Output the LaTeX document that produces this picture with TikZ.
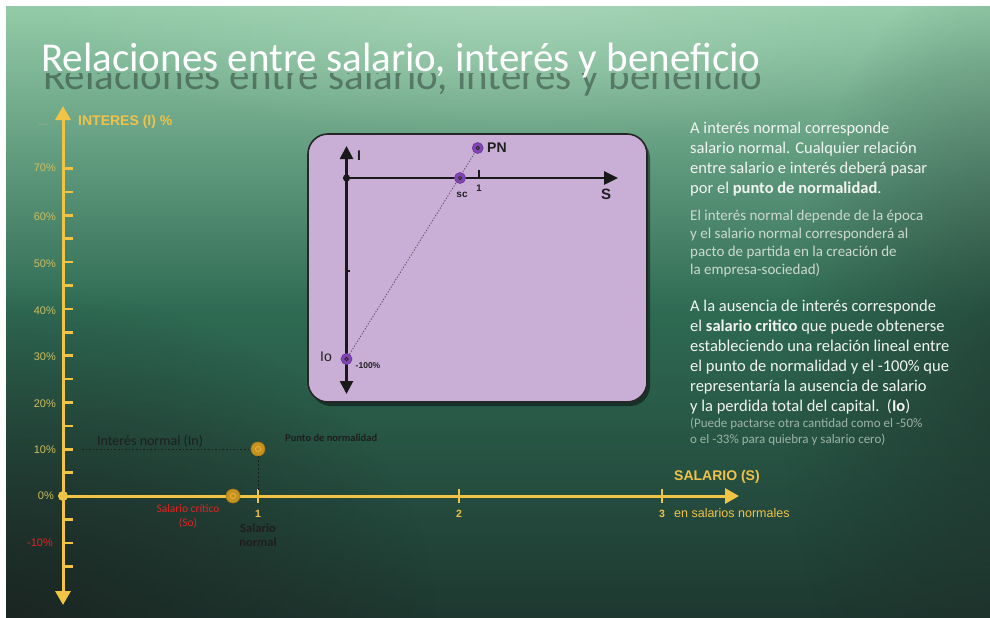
\documentclass[tikz,border=0pt]{standalone}
\usepackage{fontspec}
\setmainfont{Carlito}
\newfontfamily\arialf{Liberation Sans}
\usetikzlibrary{arrows.meta,shadows,fadings}

\definecolor{bgtop}{HTML}{93CBA8}
\definecolor{bgmid}{HTML}{2E6A53}
\definecolor{bgbot}{HTML}{1E3830}
\definecolor{axisY}{HTML}{F2C445}
\definecolor{pctcol}{HTML}{CDBE5E}
\definecolor{labY}{HTML}{F0C24A}
\definecolor{redlab}{HTML}{E02424}
\definecolor{darklab}{HTML}{1E1E1E}
\definecolor{boxfill}{HTML}{C9AFD5}
\definecolor{ptpurple}{HTML}{8245B5}
\definecolor{ptpurpleedge}{HTML}{6A2E99}
\definecolor{ptorange}{HTML}{C8921E}
\definecolor{ptorangeedge}{HTML}{A97812}
\definecolor{ptorangein}{HTML}{E3B040}
\definecolor{txtwhite}{HTML}{F2F4F2}
\definecolor{txtgray}{HTML}{CCD9CF}
\definecolor{txtdim}{HTML}{9DB3A8}
\definecolor{lightglow}{HTML}{B8DEC4}
\definecolor{darkcorner}{HTML}{1A201E}

\tikzfading[name=radfade, inner color=transparent!0, outer color=transparent!100]

\tikzset{
  mainaxis/.style={draw=axisY, line width=3pt},
  maintick/.style={draw=axisY, line width=2.6pt},
  pctlabel/.style={font=\arialf\fontsize{11}{13}\selectfont, text=pctcol, anchor=east, inner sep=0pt},
  axtitle/.style={font=\arialf\bfseries\fontsize{14}{16}\selectfont, text=labY, inner sep=0pt},
  opoint/.style={circle, minimum size=14pt, inner sep=0pt, fill=ptorange, draw=ptorangeedge, line width=0.6pt,
    path picture={\draw[ptorangein, line width=0.9pt] (path picture bounding box.center) circle (2.6pt);}},
  ppoint/.style={circle, minimum size=11pt, inner sep=0pt, fill=ptpurple, draw=ptpurpleedge, line width=0.6pt,
    path picture={\draw[black!85, line width=0.9pt] (path picture bounding box.center) circle (1.8pt);}},
  boxaxis/.style={draw=black!90, line width=2.6pt},
  boxlabel/.style={font=\arialf\bfseries, text=black!88, inner sep=0pt},
  paraA/.style={font=\fontsize{16.5}{20}\selectfont, text=txtwhite, align=left, anchor=north west, inner sep=0pt},
  paraB/.style={font=\fontsize{15}{18}\selectfont, text=txtgray, align=left, anchor=north west, inner sep=0pt},
  paraC/.style={font=\fontsize{13}{16}\selectfont, text=txtdim, align=left, anchor=north west, inner sep=0pt},
  titlefont/.style={anchor=base west, inner sep=0pt, font=\fontsize{41}{48}\selectfont},
}

\begin{document}
\begin{tikzpicture}[x=1pt,y=-1pt]
\useasboundingbox (0,0) rectangle (990,618);
\fill[white] (0,0) rectangle (990,618);
% background
\shade[top color=bgtop, bottom color=bgbot, middle color=bgmid] (6,7) rectangle (990,618);
\begin{scope}
\clip (6,7) rectangle (990,618);
\fill[lightglow, opacity=0.5, path fading=radfade] (520,0) ellipse (480pt and 140pt);
\fill[darkcorner, opacity=0.75, path fading=radfade] (6,618) ellipse (430pt and 330pt);
\fill[darkcorner, opacity=0.45, path fading=radfade] (1010,380) ellipse (230pt and 420pt);
\end{scope}

% title with its shadow (visible only below the title)
\begin{scope}
\clip (6,73) rectangle (990,100);
\node[titlefont, text=black, opacity=0.35] (titleshadow) at (43,89) {Relaciones entre salario, interés y beneficio};
\end{scope}
\node[titlefont, text=white] (title) at (41,71) {Relaciones entre salario, interés y beneficio};

% main vertical axis
\draw[mainaxis, {Triangle[width=15pt,length=14pt]}-{Triangle[width=15pt,length=14pt]}] (63,605) -- (63,106);
\foreach \p in {-15,-10,-5,5,10,15,20,25,30,35,40,45,50,55,60,65,70}
  \draw[maintick] (63,{496-4.68*\p}) -- ++(10,0);
% horizontal axis
\draw[mainaxis, -{Triangle[width=15pt,length=14pt]}] (63,496) -- (739,496);
\foreach \s/\xx in {1/258,2/459,3/662}
  \draw[maintick] (\xx,489) -- (\xx,503);
\fill[axisY] (63,496) circle (5pt);

% percent labels
\node[pctlabel] (p70) at (56,168) {70\%};
\node[pctlabel] (p60) at (56,217) {60\%};
\node[pctlabel] (p50) at (56,264) {50\%};
\node[pctlabel] (p40) at (56,311) {40\%};
\node[pctlabel] (p30) at (56,357) {30\%};
\node[pctlabel] (p20) at (56,404) {20\%};
\node[pctlabel] (p10) at (56,450) {10\%};
\node[pctlabel] (p0) at (54,496) {0\%};
\node[pctlabel, text=redlab] (pm10) at (53,543) {-10\%};
\node[pctlabel, text=txtdim!70!pctcol] (pdots) at (48,125) {...};

\node[axtitle, anchor=west] (ylabel) at (78,122) {INTERES (I) \%};
\node[axtitle, anchor=west] (xlabel) at (674,477) {SALARIO (S)};

% x tick labels
\node[font=\arialf\bfseries\fontsize{10.5}{12}\selectfont, text=labY, inner sep=0pt] (x1) at (258,514) {1};
\node[font=\arialf\bfseries\fontsize{10.5}{12}\selectfont, text=labY, inner sep=0pt] (x2) at (459,514) {2};
\node[font=\arialf\bfseries\fontsize{10.5}{12}\selectfont, text=labY, inner sep=0pt] (x3) at (662,514) {3};
\node[font=\arialf\fontsize{12.5}{14}\selectfont, text=labY, inner sep=0pt, anchor=west] (xunits) at (674,513) {en salarios normales};

% points on main plot
\node[opoint] (pn) at (258,449) {};
\node[opoint] (sc) at (233,496) {};
\coordinate (inL) at (82,449);
\coordinate (tick1) at (258,490);
\draw[darklab, line width=0.9pt, dash pattern=on 1.6pt off 2pt] (inL) -- (pn.west);
\draw[darklab, line width=0.9pt, dash pattern=on 2pt off 2pt] (pn.south) -- (tick1);

\node[font=\fontsize{14}{16}\selectfont, text=darklab, inner sep=0pt, anchor=west] (inlabel) at (97,441) {Interés normal (In)};
\node[font=\bfseries\fontsize{10.5}{12}\selectfont, text=darklab, inner sep=0pt, anchor=west] (pnlabel) at (285,438) {Punto de normalidad};
\node[font=\fontsize{11.5}{14}\selectfont, text=redlab, inner sep=0pt, align=center] (sclabel) at (188,516) {Salario crítico\\(So)};
\node[font=\bfseries\fontsize{12.5}{14}\selectfont, text=darklab, inner sep=0pt, align=center] (snlabel) at (258,535.5) {Salario\\normal};

% purple box
\node[draw=black!85, line width=1.6pt, fill=boxfill, rounded corners=20pt, minimum width=339pt, minimum height=268pt,
  drop shadow={shadow xshift=3pt, shadow yshift=-4pt, fill=black, opacity=0.45}] (box) at (477.5,268) {};
\coordinate (bo) at (346.5,178);
\coordinate (btop) at (346.5,146);
\coordinate (bbot) at (346.5,394);
\coordinate (bright) at (618,178);
\coordinate (bt1) at (479,169.5);
\coordinate (bt1b) at (479,178);
\coordinate (bmk) at (346.5,271);
\coordinate (bmk2) at (350,271);
\draw[boxaxis, {Triangle[width=13pt,length=13pt]}-{Triangle[width=13pt,length=13pt]}] (bbot) -- (btop);
\draw[boxaxis, -{Triangle[width=13pt,length=14pt]}] (bo) -- (bright);
\draw[black!90, line width=2pt] (bt1) -- (bt1b);
\draw[black!90, line width=1.5pt] (bmk) -- (bmk2);
\fill[black!90] (bo) circle (3.6pt);

\node[ppoint] (bpn) at (477.7,148) {};
\node[ppoint] (bsc) at (460,178) {};
\node[ppoint] (bio) at (346.5,359) {};
\draw[black!55!boxfill, line width=0.8pt, dash pattern=on 1.3pt off 1.6pt] (bio) -- (bpn);

\node[boxlabel, font=\arialf\bfseries\fontsize{14}{16}\selectfont] (lI) at (359,156) {I};
\node[boxlabel, font=\arialf\bfseries\fontsize{15}{17}\selectfont] (lS) at (606,194) {S};
\node[boxlabel, font=\arialf\bfseries\fontsize{14}{16}\selectfont, anchor=west] (lPN) at (487,148) {PN};
\node[boxlabel, font=\arialf\bfseries\fontsize{10}{12}\selectfont] (lsc) at (462,195) {sc};
\node[boxlabel, font=\arialf\bfseries\fontsize{9.5}{12}\selectfont] (l1) at (479,188) {1};
\node[boxlabel, font=\arialf\fontsize{14}{16}\selectfont] (lIo) at (326,357) {Io};
\node[boxlabel, font=\arialf\bfseries\fontsize{8.5}{10}\selectfont] (l100) at (368,366) {-100\%};

% right text
\node[paraA] (t1) at (690,122) {A interés normal corresponde\\salario normal. Cualquier relación\\entre salario e interés deberá pasar\\por el \textbf{punto de normalidad}.};
\node[paraB] (t2) at (690,210) {El interés normal depende de la época\\y el salario normal corresponderá al\\pacto de partida en la creación de\\la empresa-sociedad)};
\node[paraA] (t3) at (690,300) {A la ausencia de interés corresponde\\el \textbf{salario critico} que puede obtenerse\\estableciendo una relación lineal entre\\el punto de normalidad y el -100\% que\\representaría la ausencia de salario\\y la perdida total del capital.~~(\textbf{Io})};
\node[paraC] (t4) at (690,418) {(Puede pactarse otra cantidad como el -50\%\\o el -33\% para quiebra y salario cero)};
\end{tikzpicture}
\end{document}
